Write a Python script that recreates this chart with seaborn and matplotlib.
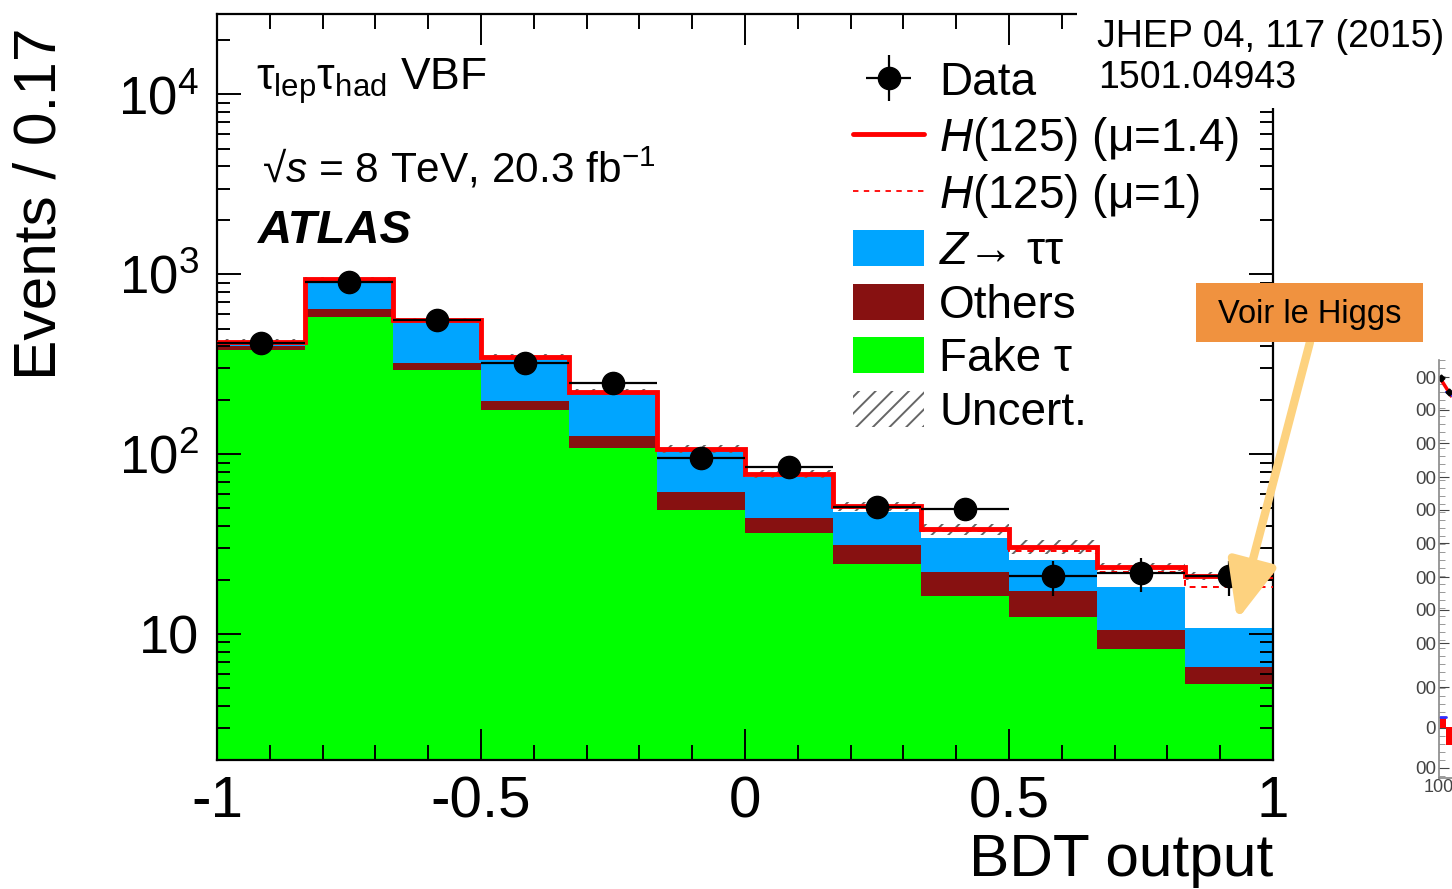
import numpy as np
import pandas as pd
import matplotlib
matplotlib.use("Agg")
import matplotlib.pyplot as plt
from matplotlib.ticker import (FixedLocator, FixedFormatter, MultipleLocator,
                               LogLocator, NullFormatter, AutoMinorLocator)
from matplotlib.patches import Rectangle, Patch
from matplotlib.lines import Line2D
import seaborn as sns

# ---------------- data ----------------
bin_edges = np.linspace(-1.0, 1.0, 13)
fake_tau = [381, 581, 294, 177, 108, 49.3, 36.3, 24.7, 16.3, 12.5, 8.3, 5.3]
others = [20, 62, 29, 22, 19, 12.5, 7.7, 6.5, 6.0, 5.0, 2.3, 1.3]
z_tautau = [9, 276, 221, 141, 91, 42, 30.5, 16.5, 12.1, 8.4, 7.7, 4.2]
higgs_mu14 = [12, 20, 12, 8, 5, 3, 3.3, 3.6, 4.1, 4.6, 5.3, 10.4]
higgs_mu1 = [9, 14, 9, 6, 3.6, 2.2, 2.4, 2.6, 2.9, 3.3, 3.8, 7.4]
uncert_frac = [0.03, 0.03, 0.03, 0.04, 0.04, 0.05, 0.05, 0.06, 0.07, 0.09, 0.05, 0.05]
data_counts = [413, 912, 558, 323, 250, 95, 85.5, 50.8, 49.8, 21.0, 21.9, 21.0]
data_err = [20, 30, 24, 18, 16, 10, 9.2, 7.1, 7.1, 4.6, 4.7, 4.6]

x_tick_values = [-1, -0.5, 0, 0.5, 1]
x_tick_labels = ["-1", "-0.5", "0", "0.5", "1"]
y_tick_values = [10, 100, 1000, 10000]
y_tick_labels = ["10", "$10^{2}$", "$10^{3}$", "$10^{4}$"]
y_tick_sizes = [39, 38, 38, 38]

process_names = ["Z\u2192 \u03c4\u03c4", "Others", "Fake \u03c4"]
process_colors = ["#00A5FF", "#871111", "#00FF00"]
legend_labels = ["Data", "$H$(125) (\u03bc=1.4)", "$H$(125) (\u03bc=1)",
                 "$Z$\u2192 \u03c4\u03c4", "Others", "Fake \u03c4", "Uncert."]

# fragment of the neighbouring slide chart, cut by the right edge
side_tick_pos = [401, 368, 335, 301, 268, 235, 201, 168, 135, 91, 50, 10]
side_tick_labels = ["00"] * 10 + ["0", "00"]
side_red_x = [1, 13]
side_red_y = [400, 381]
side_pts_x = [2, 10]
side_pts_y = [400, 386]
side_blue_x = [7, 13]
side_blue_y = [386, 382]
side_bar_x = [3.5, 9.5]
side_bar_bottom = [50, 33]
side_bar_height = [10, 18]
side_blue2_x = [1, 7]
side_blue2_y = [61, 61]

# ---------------- style ----------------
sns.set_theme(style="ticks")
plt.rcParams["font.family"] = ["Liberation Sans", "DejaVu Sans"]
plt.rcParams["mathtext.fontset"] = "custom"
plt.rcParams["mathtext.rm"] = "Liberation Sans"
plt.rcParams["mathtext.it"] = "Liberation Sans:italic"
plt.rcParams["mathtext.bf"] = "Liberation Sans:bold"
plt.rcParams["hatch.linewidth"] = 1.4
plt.rcParams["hatch.color"] = "#666666"
for k in ("text.color", "axes.labelcolor", "xtick.color", "ytick.color",
          "axes.edgecolor"):
    plt.rcParams[k] = "black"

W, H = 1452, 889
fig = plt.figure(figsize=(W / 100, H / 100), dpi=100)
fig.patch.set_facecolor("white")
ax = fig.add_axes([217 / W, 129 / H, 1056 / W, 746 / H])
ax.set_facecolor("white")
ax.set_yscale("log")

centers = 0.5 * (bin_edges[:-1] + bin_edges[1:])
half_w = np.diff(bin_edges) / 2
df = pd.DataFrame({
    "BDT output": np.tile(centers, 3),
    "Events": np.concatenate([z_tautau, others, fake_tau]),
    "process": np.repeat(process_names, len(centers)),
})
sns.histplot(data=df, x="BDT output", weights="Events", hue="process",
             hue_order=process_names, palette=process_colors,
             multiple="stack", element="step", bins=list(bin_edges), alpha=1,
             linewidth=0, legend=False, ax=ax, zorder=1)

bkg = np.array(fake_tau) + np.array(others) + np.array(z_tautau)
tot14 = bkg + np.array(higgs_mu14)
tot1 = bkg + np.array(higgs_mu1)
unc = np.array(uncert_frac)

ax.stairs(tot14 * (1 + unc), bin_edges, baseline=tot14 * (1 - unc), fill=True,
          facecolor="none", edgecolor="#666666", hatch="//", linewidth=0, zorder=2)
ax.stairs(tot1, bin_edges, color="red", linewidth=1.4, linestyle=(0, (3, 3)),
          baseline=None, zorder=3)
ax.stairs(tot14, bin_edges, color="red", linewidth=3.5, baseline=None, zorder=3)

data_h = ax.errorbar(centers, data_counts, xerr=half_w, yerr=data_err, fmt="o",
                     color="black", markersize=16, elinewidth=1.6, capsize=0,
                     zorder=5)

ax.set_xlim(-1, 1)
ax.set_ylim(2.0, 2.8e4)
ax.set_axisbelow(False)

ax.xaxis.set_major_locator(FixedLocator(x_tick_values))
ax.xaxis.set_major_formatter(FixedFormatter(x_tick_labels))
ax.xaxis.set_minor_locator(MultipleLocator(0.1))
ax.yaxis.set_major_locator(FixedLocator(y_tick_values))
ax.yaxis.set_major_formatter(FixedFormatter(y_tick_labels))
ax.yaxis.set_minor_locator(LogLocator(base=10, subs=range(2, 10)))
ax.yaxis.set_minor_formatter(NullFormatter())

ax.tick_params(axis="x", which="major", direction="in", length=22, width=1.4,
               top=True, bottom=True, labelsize=42, pad=11, color="black",
               labelcolor="black")
ax.tick_params(axis="x", which="minor", direction="in", length=10.8, width=1.4,
               top=True, bottom=True, color="black")
ax.tick_params(axis="y", which="major", direction="in", length=17.3, width=1.4,
               left=True, right=True, labelsize=40, pad=13, color="black",
               labelcolor="black")
ax.tick_params(axis="y", which="minor", direction="in", length=9.4, width=1.4,
               left=True, right=True, color="black")
for t, s in zip(ax.yaxis.get_major_ticks(), y_tick_sizes):
    t.label1.set_fontsize(s)
for sp in ax.spines.values():
    sp.set_visible(True)
    sp.set_color("black")
    sp.set_linewidth(1.6)

ax.set_xlabel("BDT output", fontsize=43.5, color="black")
ax.xaxis.label.set_ha("right")
ax.xaxis.label.set_va("baseline")
ax.xaxis.set_label_coords(1.0, (760 - 876) / 746)
ax.set_ylabel("Events / 0.17", fontsize=43.5, color="black")
ax.yaxis.label.set_rotation_mode("default")
ax.yaxis.label.set_ha("center")
ax.yaxis.label.set_va("top")
ax.yaxis.set_label_coords((40 - 217) / 1056, (760 - 28) / 746)

# ---------------- labels inside the plot ----------------
fig.text(256 / W, 1 - 90 / H, "\u03c4$_{\\mathrm{lep}}$\u03c4$_{\\mathrm{had}}$ VBF",
         fontsize=32, va="baseline", ha="left")
fig.text(262 / W, 1 - 182 / H, "\u221a$s$ = 8 TeV, 20.3 fb$^{\\mathrm{-1}}$",
         fontsize=30.5, va="baseline", ha="left")
fig.text(258 / W, 1 - 243 / H, "ATLAS", fontsize=34, fontweight="bold",
         fontstyle="italic", va="baseline", ha="left")

# ---------------- legend ----------------
handles = [
    data_h,
    Line2D([], [], color="red", lw=3.5),
    Line2D([], [], color="red", lw=1.3, ls=(0, (3, 3))),
    Patch(facecolor=process_colors[0], edgecolor="none"),
    Patch(facecolor=process_colors[1], edgecolor="none"),
    Patch(facecolor=process_colors[2], edgecolor="none"),
    Patch(facecolor="none", edgecolor="#666666", hatch="//", linewidth=0),
]
leg = ax.legend(handles, legend_labels, loc="upper left",
                bbox_to_anchor=(853 / W, 1 - 61 / H), bbox_transform=fig.transFigure,
                frameon=False, fontsize=33, handlelength=1.55, handleheight=0.83,
                handletextpad=0.33, labelspacing=0.21, borderpad=0,
                borderaxespad=0)

# ---------------- slide annotations ----------------
fig.add_artist(Rectangle((1077 / W, 1 - 108 / H), 375 / W, 108 / H,
                         transform=fig.transFigure, facecolor="white",
                         edgecolor="none", zorder=5))
fig.text(1097 / W, 1 - 47 / H, "JHEP 04, 117 (2015)", fontsize=27,
         va="baseline", ha="left", zorder=6)
fig.text(1098 / W, 1 - 88 / H, "1501.04943", fontsize=27, va="baseline",
         ha="left", zorder=6)

fig.add_artist(Rectangle((1196 / W, 1 - 342 / H), 227 / W, 59 / H,
                         transform=fig.transFigure, facecolor="#F0923F",
                         edgecolor="none", zorder=6))
fig.text(1309.5 / W, 1 - 314 / H, "Voir le Higgs", fontsize=23.5, ha="center",
         va="center", zorder=7)
ax.annotate("", xy=(0.932, 12.0), xycoords="data",
            xytext=(1310 / W, 1 - 342 / H), textcoords="figure fraction",
            arrowprops=dict(arrowstyle="-|>,head_length=0.7,head_width=0.3",
                            mutation_scale=50, color="#FDD27F", lw=6,
                            shrinkA=0, shrinkB=0), zorder=8,
            annotation_clip=False)

# ---------------- clipped neighbouring chart at the right edge ----------------
ax2 = fig.add_axes([1439 / W, 1 - 778 / H, 13 / W, 418 / H])
ax2.set_facecolor("none")
ax2.set_ylim(0, 418)
ax2.set_xlim(0, 13)
ax2.plot(side_red_x, side_red_y, color="red", lw=2.5, solid_capstyle="butt")
ax2.plot(side_blue_x, side_blue_y, color="#3030ff", lw=1.5)
ax2.plot(side_pts_x, side_pts_y, ls="none", marker="D", ms=3.5, color="black")
ax2.bar(side_bar_x, side_bar_height, bottom=side_bar_bottom, width=6,
        color="red", linewidth=0)
ax2.plot(side_blue2_x, side_blue2_y, color="#3030ff", lw=2)
for name, sp in ax2.spines.items():
    sp.set_visible(name in ("left", "bottom"))
    sp.set_color("#888888")
    sp.set_linewidth(1.2)
ax2.yaxis.set_major_locator(FixedLocator(side_tick_pos))
ax2.yaxis.set_major_formatter(FixedFormatter(side_tick_labels))
ax2.yaxis.set_minor_locator(AutoMinorLocator(5))
ax2.tick_params(axis="y", which="major", direction="in", length=7, width=0.8,
                labelsize=13.5, pad=2, colors="#444444")
ax2.tick_params(axis="y", which="minor", direction="in", length=4, width=0.6,
                color="#888888")
ax2.xaxis.set_major_locator(FixedLocator([0]))
ax2.xaxis.set_major_formatter(FixedFormatter(["100"]))
ax2.tick_params(axis="x", which="major", direction="in", length=0, labelsize=13,
                pad=1, colors="#444444")

fig.savefig("out.png", dpi=100, facecolor="white")
